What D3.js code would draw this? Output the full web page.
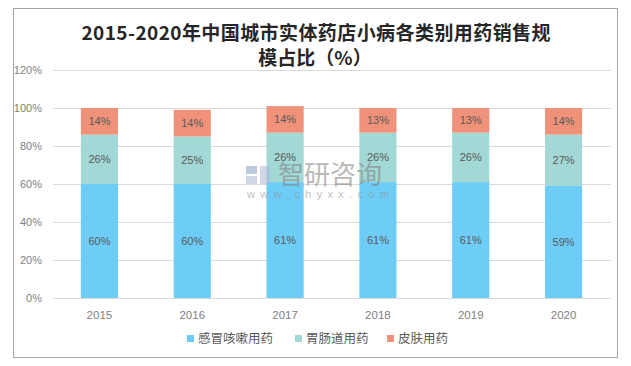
<!DOCTYPE html>
<html><head><meta charset="utf-8">
<script src="https://cdn.jsdelivr.net/npm/d3@7/dist/d3.min.js"></script>
<style>body{margin:0;background:#fff}svg{display:block}</style>
</head><body>
<svg id="c" width="631" height="366"></svg>
<script>
const years = ["2015","2016","2017","2018","2019","2020"];
const seriesNames = ["感冒咳嗽用药","胃肠道用药","皮肤用药"];
const cold = [60,60,61,61,61,59];
const gastro = [26,25,26,26,26,27];
const skin = [14,14,14,13,13,14];
const yTicks = [0,20,40,60,80,100,120];
const colors = ["#6dcdf6","#a2d8d5","#f0927a"];

const svg = d3.select("#c");
svg.append("rect").attr("x",13.5).attr("y",8.5).attr("width",604).attr("height",349)
  .attr("fill","#fff").attr("stroke","#a6a6a6").attr("stroke-width",1);

const x = d3.scaleBand().domain(years).range([53,610]).paddingInner(0.6).paddingOuter(0.3);
const y = d3.scaleLinear().domain([0,120]).range([298,70]);

// gridlines
svg.append("g").selectAll("line").data(yTicks).join("line")
  .attr("x1",53).attr("x2",611).attr("y1",d=>Math.round(y(d))+0.5).attr("y2",d=>Math.round(y(d))+0.5)
  .attr("stroke","#d9d9d9").attr("stroke-width",1);

// y axis labels
const yAxis = d3.axisLeft(y).tickValues(yTicks).tickFormat(d=>d+"%").tickSize(0).tickPadding(0);
const ya = svg.append("g").attr("transform","translate(42,0)").call(yAxis);
ya.select(".domain").remove();
ya.selectAll("text").attr("fill","#7f7f7f").style("font-family","'Liberation Sans',Arial,sans-serif").style("font-size","11px");

// x axis labels
const xAxis = d3.axisBottom(x).tickSize(0).tickPadding(0);
const xa = svg.append("g").attr("transform","translate(0,311)").call(xAxis);
xa.select(".domain").remove();
xa.selectAll("text").attr("fill","#7f7f7f").style("font-family","'Liberation Sans',Arial,sans-serif").style("font-size","11.5px");

// stacked data
const rows = years.map((yr,i)=>({year:yr, a:cold[i], b:gastro[i], c:skin[i]}));
const stack = d3.stack().keys(["a","b","c"])(rows);
const g = svg.append("g");
stack.forEach((layer,li)=>{
  const lg = g.append("g");
  lg.selectAll("rect").data(layer).join("rect")
    .attr("x",d=>x(d.data.year)).attr("width",x.bandwidth())
    .attr("y",d=>y(d[1])).attr("height",d=>y(d[0])-y(d[1]))
    .attr("fill",colors[li]);
});
// segment labels
stack.forEach((layer,li)=>{
  g.append("g").selectAll("text").data(layer).join("text")
    .attr("x",d=>x(d.data.year)+x.bandwidth()/2)
    .attr("y",d=>(y(d[0])+y(d[1]))/2)
    .attr("dy","0.35em").attr("text-anchor","middle")
    .attr("fill","#595959").style("font-family","'Liberation Sans',Arial,sans-serif").style("font-size","11px")
    .text(d=>(d[1]-d[0])+"%");
});

// watermark
const wm = svg.append("g").attr("opacity",0.55);
wm.append("rect").attr("x",246).attr("y",166).attr("width",11).attr("height",8).attr("fill","#8aa0c8");
wm.append("rect").attr("x",246).attr("y",176).attr("width",11).attr("height",8).attr("fill","#a9b8d8");
wm.append("rect").attr("x",260).attr("y",166).attr("width",10).attr("height",18).attr("fill","#a9b8d8");
wm.append("text").attr("x",278).attr("y",184).attr("fill","#808080")
  .style("font-family","'Noto Sans CJK SC',sans-serif").style("font-size","26px").text("智研咨询");
wm.append("text").attr("x",247).attr("y",198).attr("fill","#909090")
  .style("font-family","'Liberation Sans',Arial,sans-serif").style("font-size","11px").style("letter-spacing","5.3px").text("www.chyxx.com");

// title
const t = svg.append("text").attr("text-anchor","middle").attr("fill","#262626")
  .style("font-family","'Noto Sans CJK SC',sans-serif").style("font-weight","bold").style("font-size","19px");
t.append("tspan").attr("x",316).attr("y",40).attr("textLength",469).text("2015-2020年中国城市实体药店小病各类别用药销售规");
t.append("tspan").attr("x",315).attr("y",65).text("模占比（%）");

// legend
const legX = [187,295,387];
const lg = svg.append("g");
seriesNames.forEach((n,i)=>{
  lg.append("rect").attr("x",legX[i]).attr("y",335).attr("width",7).attr("height",7).attr("fill",colors[i]);
  lg.append("text").attr("x",legX[i]+11).attr("y",338.5).attr("dy","0.35em").attr("fill","#595959")
    .style("font-family","'Noto Sans CJK SC',sans-serif").style("font-size","12.5px").text(n);
});
</script>
</body></html>
